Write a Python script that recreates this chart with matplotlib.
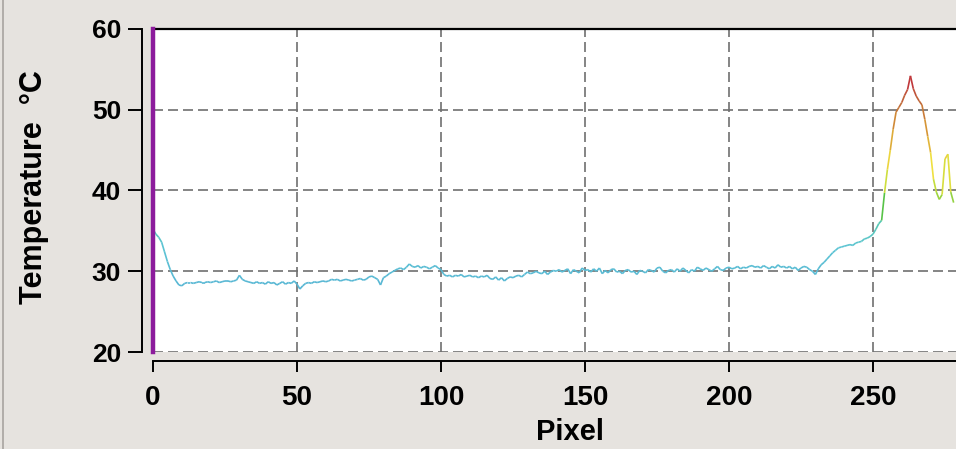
import numpy as np
import matplotlib
matplotlib.use('Agg')
import matplotlib.pyplot as plt
from matplotlib.collections import LineCollection
from matplotlib.colors import LinearSegmentedColormap, Normalize
from matplotlib.lines import Line2D

# temperature per pixel (pixel 0..278)
temps = [
    35.2, 34.6, 34.2, 33.6, 32.4, 31.2, 30.2, 29.4, 28.8, 28.3,
    28.2, 28.5, 28.6, 28.6, 28.5, 28.6, 28.7, 28.6, 28.6, 28.7,
    28.6, 28.7, 28.8, 28.6, 28.7, 28.8, 28.8, 28.7, 28.8, 28.9,
    29.5, 29.0, 28.8, 28.7, 28.6, 28.5, 28.7, 28.5, 28.6, 28.4,
    28.7, 28.5, 28.6, 28.3, 28.5, 28.7, 28.4, 28.6, 28.5, 28.8,
    28.4, 27.8, 28.2, 28.5, 28.6, 28.5, 28.7, 28.6, 28.7, 28.8,
    28.7, 28.8, 29.0, 28.9, 29.0, 28.8, 28.9, 29.0, 28.9, 28.8,
    28.9, 29.0, 29.1, 28.9, 29.0, 29.3, 29.4, 29.2, 29.0, 28.3,
    29.2, 29.4, 29.7, 29.9, 30.1, 30.3, 30.4, 30.2, 30.5, 30.9,
    30.6, 30.5, 30.7, 30.4, 30.6, 30.5, 30.3, 30.5, 30.7, 30.4,
    30.2, 29.6, 29.4, 29.5, 29.3, 29.5, 29.4, 29.6, 29.3, 29.4,
    29.5, 29.3, 29.4, 29.2, 29.4, 29.3, 29.5, 29.1, 29.0, 29.3,
    28.9, 29.2, 28.8, 29.1, 29.3, 29.2, 29.4, 29.5, 29.3, 29.6,
    29.9, 29.7, 29.8, 30.0, 29.8, 29.7, 30.0, 29.6, 29.9, 30.1,
    30.0, 30.2, 29.9, 30.1, 30.3, 29.7, 30.2, 30.0, 29.8, 30.4,
    30.1, 30.2, 29.9, 30.3, 30.0, 30.4, 29.7, 30.1, 29.8, 30.2,
    30.3, 29.9, 30.0, 29.7, 30.1, 30.2, 29.9, 30.0, 29.6, 30.1,
    30.0, 29.8, 30.2, 30.1, 29.9, 30.4, 30.5, 30.0, 29.8, 30.1,
    30.2, 29.9, 30.3, 30.0, 30.4, 30.1, 29.8, 30.2, 30.0, 30.5,
    30.3, 30.1, 30.4, 30.2, 30.0, 30.3, 30.6, 30.2, 30.1, 30.4,
    30.5, 30.3, 30.4, 30.6, 30.3, 30.5, 30.4, 30.6, 30.7, 30.5,
    30.6, 30.4, 30.7, 30.5, 30.3, 30.6, 30.4, 30.8, 30.5, 30.6,
    30.4, 30.6, 30.3, 30.5, 30.1, 30.4, 30.6, 30.5, 30.2, 30.0,
    29.6, 30.3, 30.8, 31.1, 31.5, 31.9, 32.3, 32.6, 32.9, 33.0,
    33.1, 33.2, 33.3, 33.2, 33.5, 33.6, 33.7, 34.0, 34.1, 34.3,
    34.6, 35.2, 35.9, 36.3, 39.7, 42.6, 45.0, 47.6, 49.7, 50.3,
    50.9, 51.8, 52.5, 54.2, 52.6, 51.7, 51.1, 50.6, 48.8, 46.7,
    44.7, 41.4, 39.8, 38.9, 39.5, 43.9, 44.5, 39.8, 38.5,
]
pixels = np.arange(len(temps))

x_ticks = [0, 50, 100, 150, 200, 250]
y_ticks = [20, 30, 40, 50, 60]

plt.rcParams['font.family'] = ['Liberation Sans', 'DejaVu Sans']
plt.rcParams['font.weight'] = 'bold'

W, H = 956, 449
fig = plt.figure(figsize=(W / 100, H / 100), dpi=100)
fig.patch.set_facecolor('#e6e3df')

left, bottom, top = 153, 352, 29
ax = fig.add_axes([left / W, (H - bottom) / H, (W - left) / W, (bottom - top) / H])
ax.set_facecolor('white')

x_max = (W - left) / 2.88
ax.set_xlim(0, x_max)
ax.set_ylim(20, 60)

# colour the profile by temperature
cmap = LinearSegmentedColormap.from_list('temp', [
    (0.00, '#58b6d4'),
    (0.18, '#5cc4d4'),
    (0.30, '#56c8b0'),
    (0.36, '#4cc04a'),
    (0.44, '#b8dc3c'),
    (0.56, '#f0e040'),
    (0.72, '#d89a36'),
    (0.85, '#c06a3a'),
    (1.00, '#c0183c'),
])
norm = Normalize(28, 55)
t = np.array(temps)
pts = np.column_stack([pixels, t]).reshape(-1, 1, 2)
segs = np.concatenate([pts[:-1], pts[1:]], axis=1)
lc = LineCollection(segs, cmap=cmap, norm=norm, linewidths=1.2, zorder=3)
lc.set_array((t[:-1] + t[1:]) / 2)
ax.add_collection(lc)

# marker line at pixel 0
ax.axvline(0, color='#8c1c9c', lw=3.2, clip_on=False, zorder=4)

ax.set_xticks(x_ticks)
ax.set_yticks(y_ticks)
ax.grid(True, color='#707070', lw=1.2, linestyle=(0, (6, 3)))
ax.set_axisbelow(True)

ax.spines['right'].set_visible(False)
ax.spines['top'].set_linewidth(1.6)
ax.spines['left'].set_position(('outward', 8))
ax.spines['bottom'].set_position(('outward', 6.5))
ax.spines['left'].set_bounds(20, 60)
ax.spines['bottom'].set_bounds(0, x_max)
for s in ['left', 'bottom']:
    ax.spines[s].set_linewidth(1.4)

ax.tick_params(axis='y', length=10, width=1.4, pad=5, labelsize=19)
ax.tick_params(axis='x', length=8, width=1.4, pad=9, labelsize=20)

ax.set_xlabel('Pixel', fontsize=21, fontweight='bold', labelpad=5)
ax.set_ylabel('Temperature  °C', fontsize=22, fontweight='bold', labelpad=31)
ax.xaxis.label.set_x((570 - left) / (W - left))
ax.yaxis.label.set_y(0.51)

fig.add_artist(Line2D([3 / W, 3 / W], [0, 1], color='#a8a4a0', lw=1.2))

fig.savefig('out.png', dpi=100, facecolor=fig.get_facecolor())
